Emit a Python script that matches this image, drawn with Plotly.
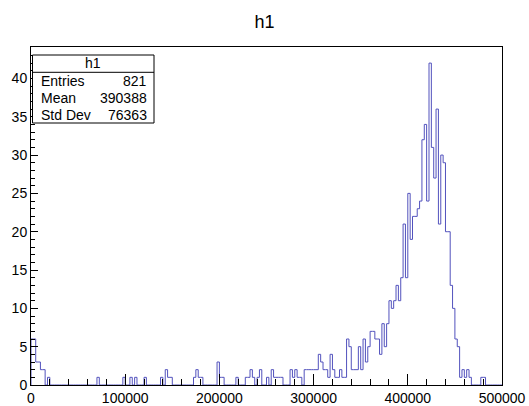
import plotly.graph_objects as go

# histogram h1: 200 bins from 0 to 500000
x_min = 0
x_max = 500000
n_bins = 200

counts = [
    6, 6, 3, 3, 2, 2, 0, 1, 0, 0, 0, 0, 0, 0, 0, 0, 0, 0, 0, 0,
    0, 0, 0, 0, 0, 0, 0, 0, 1, 0, 0, 0, 0, 0, 0, 0, 0, 0, 0, 1,
    0, 0, 1, 0, 1, 0, 0, 0, 1, 0, 0, 0, 0, 0, 0, 1, 0, 2, 1, 1,
    0, 0, 0, 0, 0, 0, 0, 0, 0, 1, 2, 1, 1, 0, 0, 0, 0, 0, 0, 3,
    1, 1, 0, 0, 0, 0, 0, 1, 0, 0, 0, 1, 1, 2, 1, 0, 1, 2, 0, 0,
    1, 0, 2, 1, 1, 1, 1, 0, 0, 0, 2, 1, 2, 1, 1, 0, 2, 2, 2, 2,
    2, 2, 4, 3, 2, 2, 1, 4, 2, 1, 1, 2, 1, 1, 6, 5, 2, 2, 2, 5,
    2, 6, 3, 5, 7, 7, 6, 6, 4, 8, 5, 8, 11, 10, 11, 13, 11, 14, 21, 14,
    25, 19, 22, 22, 23, 24, 32, 34, 24, 42, 31, 27, 36, 21, 30, 29, 20, 20, 13, 10,
    6, 5, 1, 2, 1, 2, 1, 0, 0, 0, 0, 1, 1, 0, 0, 0, 0, 0, 0, 0,
]

stat_names = ['Entries', 'Mean', 'Std Dev']
stat_values = ['821', '390388', '76363']

width = (x_max - x_min) / n_bins
edges = [x_min + i * width for i in range(n_bins + 1)]

# outline like ROOT: start at baseline, step through bins, back to baseline
xs = [edges[0]] + edges[:-1] + [edges[-1]]
ys = [0] + counts + [0]

fig = go.Figure()
fig.add_trace(go.Scatter(
    x=xs, y=ys, mode='lines',
    line=dict(color='#5252bd', width=1, shape='hv'),
    hoverinfo='skip', showlegend=False
))

# plot area in pixels
W, H = 529, 406
L, R, T, B = 31, 502, 47, 385


def px(x):
    return (x - L) / (R - L)


def py(y):
    return (B - y) / (B - T)


font = 'Liberation Sans, Arial, Helvetica, sans-serif'

# stats box
bx0, bx1, by0, by1 = 32.5, 154, 55, 123
fig.add_shape(type='rect', xref='paper', yref='paper',
              x0=px(bx0), x1=px(bx1), y0=py(by1), y1=py(by0),
              line=dict(color='black', width=1), fillcolor='white', layer='above')
fig.add_shape(type='line', xref='paper', yref='paper',
              x0=px(bx0), x1=px(bx1), y0=py(72.3), y1=py(72.3),
              line=dict(color='black', width=1), layer='above')
fig.add_annotation(xref='paper', yref='paper', x=px(93.3), y=py(63.5),
                   text='h1', showarrow=False, xanchor='center', yanchor='middle',
                   font=dict(family=font, size=14, color='black'))
row_y = [81, 98, 115]
for name, val, yy in zip(stat_names, stat_values, row_y):
    fig.add_annotation(xref='paper', yref='paper', x=px(39), y=py(yy),
                       text=name, showarrow=False, xanchor='left', yanchor='middle',
                       font=dict(family=font, size=14, color='black'))
    fig.add_annotation(xref='paper', yref='paper', x=px(149), y=py(yy),
                       text=val, showarrow=False, xanchor='right', yanchor='middle',
                       font=dict(family=font, size=14, color='black'))

fig.update_layout(
    width=W, height=H,
    margin=dict(l=L, r=W - R, t=T, b=H - B, autoexpand=False),
    paper_bgcolor='white', plot_bgcolor='white',
    title=dict(text='h1', x=0.5, xanchor='center', y=1 - 22 / H, yanchor='middle',
               font=dict(family=font, size=18, color='black')),
    font=dict(family=font, color='black'),
    xaxis=dict(
        range=[x_min, x_max], showgrid=False, zeroline=False, automargin=False,
        showline=True, linecolor='black', linewidth=1, mirror=True,
        ticks='inside', ticklen=11, tickcolor='black', dtick=100000, tick0=0,
        tickfont=dict(size=14), tickformat='d',
        minor=dict(ticks='inside', ticklen=6, dtick=20000, tickcolor='black', showgrid=False),
    ),
    yaxis=dict(
        range=[0, 44.1], showgrid=False, zeroline=False, automargin=False,
        showline=True, linecolor='black', linewidth=1, mirror=True,
        ticks='inside', ticklen=7, tickcolor='black', dtick=5, tick0=0,
        tickfont=dict(size=14),
        minor=dict(ticks='inside', ticklen=4, dtick=1, tickcolor='black', showgrid=False),
    ),
)

# drop the default page margin so the figure sits at the window corner
fig.write_html('out.html', config={'displayModeBar': False},
               post_script="document.body.style.margin='0';")
